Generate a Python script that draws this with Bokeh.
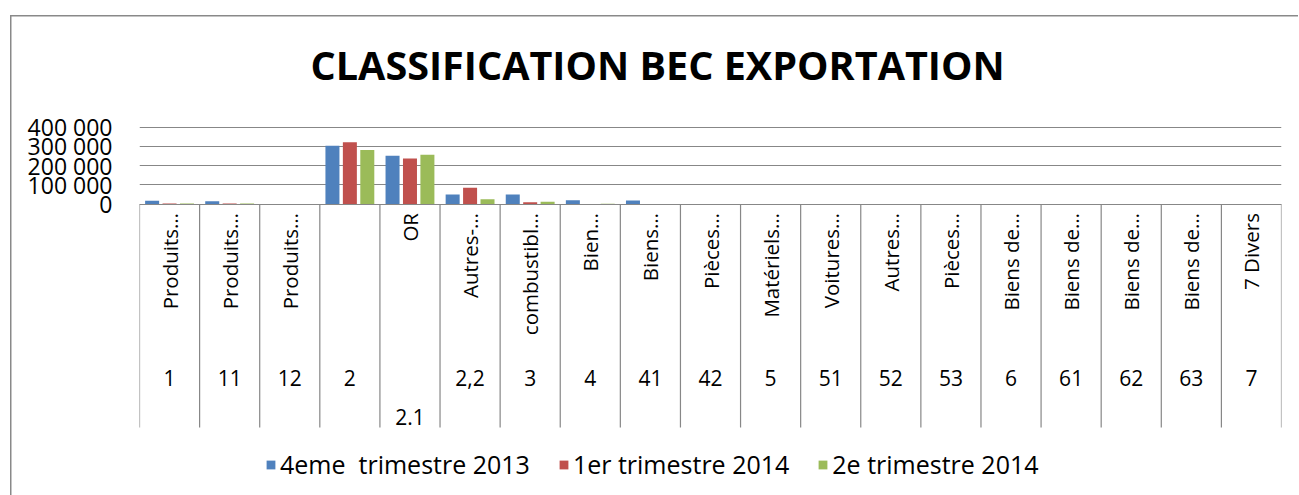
import math
from bokeh.plotting import figure
from bokeh.models import Range1d, FixedTicker, Legend, LegendItem, ColumnDataSource
from bokeh.core.properties import value
from bokeh.embed import file_html
from bokeh.resources import INLINE

# ---- data ----
categories = ["Produits…", "Produits…", "Produits…", "", "OR", "Autres-…", "combustibl…",
              "Bien…", "Biens…", "Pièces…", "Matériels…", "Voitures…", "Autres…", "Pièces…",
              "Biens de…", "Biens de…", "Biens de…", "Biens de…", "7 Divers"]
codes = ["1", "11", "12", "2", "2.1", "2,2", "3", "4", "41", "42", "5", "51", "52", "53",
         "6", "61", "62", "63", "7"]
series_names = ["4eme  trimestre 2013", "1er trimestre 2014", "2e trimestre 2014"]
q4_2013 = [17000, 14000, 0, 303000, 251000, 49000, 49000, 19000, 18000, 0, 0, 0, 0, 0, 0, 0, 0, 0, 0]
q1_2014 = [3000, 2000, 0, 321000, 237000, 84000, 9000, 500, 0, 0, 0, 0, 0, 0, 0, 0, 0, 0, 0]
q2_2014 = [2000, 2000, 0, 281000, 256000, 25000, 12000, 1000, 0, 0, 0, 0, 0, 0, 0, 0, 0, 0, 0]
y_ticks = [0, 100000, 200000, 300000, 400000]
y_tick_labels = ["0", "100 000", "200 000", "300 000", "400 000"]

# ---- layout constants (pixels) ----
FONT = "Open Sans"
colors = ["#4F81BD", "#C0504D", "#9BBB59"]
grid_color = "#878787"
PIX = 77 / 400000.0          # pixels per value unit
W, H = 1299, 495
frame_top, frame_left, frame_right = 126, 139, 1281
zero_y = frame_top + 77.5
y_max = (zero_y - frame_top) / PIX
y_min = -(H - zero_y) / PIX
table_bottom = -223.5 / PIX
label_top = -9 / PIX
code_y = -174 / PIX
code_y_low = -213 / PIX

n = len(categories)
p = figure(width=W, height=H, output_backend="svg", toolbar_location=None,
           x_range=Range1d(0, n), y_range=Range1d(y_min, y_max),
           x_axis_location=None, min_border_left=frame_left, min_border_right=W - frame_right,
           min_border_top=frame_top, min_border_bottom=0)
p.outline_line_color = None
p.background_fill_color = None
p.border_fill_color = None
# outer chart border (left and top edges of the chart area), on the figure element only
p.styles = {
    "background-color": "white",
    "background-image": "linear-gradient(#898989, #898989), linear-gradient(#898989, #898989)",
    "background-position": "10px 15px, 10px 15px",
    "background-size": "1.5px 100%, 1288px 1.5px",
    "background-repeat": "no-repeat",
}

# title
p.title.text = "CLASSIFICATION BEC EXPORTATION"
p.title.text_font = FONT
p.title.text_font_size = "39.6px"
p.title.text_font_style = "bold"
p.title.text_color = "black"
p.title.align = "left"
p.title.offset = 171
p.title.standoff = 70

# y axis / grid
ticker = FixedTicker(ticks=y_ticks)
p.yaxis.ticker = ticker
p.ygrid.ticker = ticker
p.yaxis.major_label_overrides = dict(zip(y_ticks, y_tick_labels))
p.yaxis.axis_line_color = None
p.yaxis.major_tick_line_color = None
p.yaxis.minor_tick_line_color = None
p.yaxis.major_label_standoff = 21
p.yaxis.major_label_text_font = FONT
p.yaxis.major_label_text_font_size = "23px"
p.yaxis.major_label_text_color = "black"
p.ygrid.grid_line_color = grid_color
p.ygrid.grid_line_width = 1.2
p.xgrid.grid_line_color = None

# bars
offsets = [-0.29, 0.0, 0.29]
renderers = []
for k, vals in enumerate([q4_2013, q1_2014, q2_2014]):
    src = ColumnDataSource(dict(x=[i + 0.5 + offsets[k] for i in range(n)], top=vals))
    r = p.vbar(x="x", top="top", width=0.233, source=src, fill_color=colors[k], line_color=None)
    renderers.append(r)

# category table
bounds = list(range(n + 1))
p.segment(x0=bounds, y0=[0] * (n + 1), x1=bounds, y1=[table_bottom] * (n + 1),
          line_color=grid_color, line_width=1.2)
centers = [i + 0.5 for i in range(n)]
p.text(x=centers, y=[label_top] * n, text=categories, angle=math.pi / 2,
       text_align="right", text_baseline="middle", text_font=value(FONT),
       text_font_size="20.5px", text_color="black")
p.text(x=centers, y=[code_y_low if c == "2.1" else code_y for c in codes], text=codes,
       text_align="center", text_baseline="middle", text_font=value(FONT),
       text_font_size="21px", text_color="black")

# legend
legend = Legend(items=[LegendItem(label=nm, renderers=[r]) for nm, r in zip(series_names, renderers)],
                orientation="horizontal", location=(126, 14), border_line_color=None,
                background_fill_alpha=0, padding=0, spacing=28, label_standoff=4,
                glyph_width=11, glyph_height=11, label_height=25,
                label_text_font=FONT, label_text_font_size="25px", label_text_color="black")
p.add_layout(legend)

open("out.html", "w").write(file_html(p, INLINE))
